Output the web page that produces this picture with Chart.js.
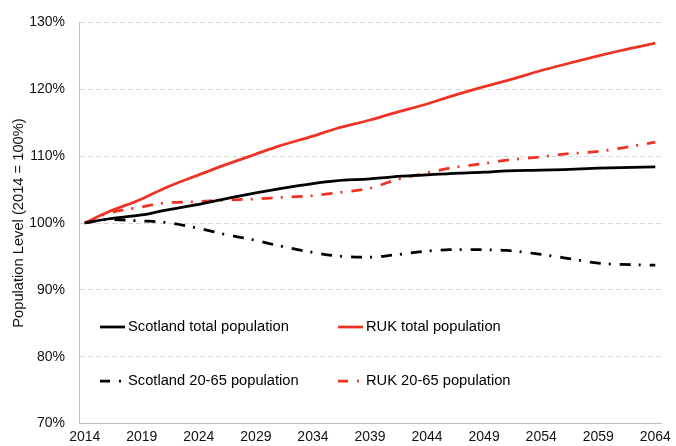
<!DOCTYPE html>
<html>
<head>
<meta charset="utf-8">
<script src="https://cdn.jsdelivr.net/npm/chart.js@4.4.1/dist/chart.umd.min.js"></script>
<style>
  html, body { margin: 0; padding: 0; background: #fff; }
  #wrap { width: 676px; height: 446px; position: relative; }
</style>
</head>
<body>
<div id="wrap"><canvas id="c" width="676" height="446"></canvas></div>
<script>
// ---- Data ----
const years = [2014, 2016, 2019, 2021, 2024, 2026, 2029, 2031, 2034, 2036, 2039, 2041, 2044, 2046, 2049, 2051, 2054, 2056, 2059, 2061, 2064];
const scotlandTotal = [100, 100.6, 101.2, 101.9, 102.8, 103.5, 104.5, 105.1, 105.9, 106.3, 106.6, 106.9, 107.2, 107.4, 107.6, 107.8, 107.9, 108.0, 108.2, 108.3, 108.4];
const rukTotal = [100, 101.6, 103.6, 105.2, 107.2, 108.5, 110.3, 111.5, 113.0, 114.1, 115.4, 116.4, 117.8, 118.9, 120.4, 121.3, 122.8, 123.7, 125.0, 125.8, 126.9];
const scotland2065 = [100, 100.5, 100.3, 100.1, 99.2, 98.4, 97.4, 96.6, 95.6, 95.1, 94.9, 95.2, 95.8, 96.0, 96.0, 95.9, 95.3, 94.8, 94.0, 93.8, 93.7];
const ruk2065 = [100, 101.4, 102.4, 103.0, 103.2, 103.4, 103.6, 103.8, 104.1, 104.5, 105.2, 106.3, 107.5, 108.2, 108.9, 109.4, 109.9, 110.3, 110.7, 111.2, 112.1];
const xTickYears = [2014, 2019, 2024, 2029, 2034, 2039, 2044, 2049, 2054, 2059, 2064];
const seriesNames = ['Scotland total population', 'RUK total population', 'Scotland 20-65 population', 'RUK 20-65 population'];

const RED = '#EE3224';
const BLACK = '#000000';
const DASHDOT = [11, 8, 2, 9];
const FONT = '"Liberation Sans", Arial, sans-serif';

const pts = arr => years.map((y, i) => ({ x: y, y: arr[i] }));

const legendPlugin = {
  id: 'insideLegend',
  afterDraw(chart) {
    const ctx = chart.ctx;
    const ds = chart.data.datasets;
    const spots = [
      { i: 0, x: 100, y: 327 },
      { i: 1, x: 338, y: 327 },
      { i: 2, x: 100, y: 381 },
      { i: 3, x: 338, y: 381 }
    ];
    spots.forEach(s => {
      const d = ds[s.i];
      ctx.save();
      ctx.strokeStyle = d.borderColor;
      ctx.lineWidth = d.borderWidth;
      ctx.setLineDash(d.borderDash && d.borderDash.length ? [10, 9, 2, 9] : []);
      ctx.beginPath();
      ctx.moveTo(s.x, s.y);
      ctx.lineTo(s.x + 25, s.y);
      ctx.stroke();
      ctx.setLineDash([]);
      ctx.fillStyle = '#000';
      ctx.font = '14.7px ' + FONT;
      ctx.textBaseline = 'middle';
      ctx.textAlign = 'left';
      ctx.fillText(d.label, s.x + 28, s.y);
      ctx.restore();
    });
  }
};

new Chart(document.getElementById('c'), {
  type: 'line',
  data: {
    datasets: [
      { label: seriesNames[0], data: pts(scotlandTotal), borderColor: BLACK, borderWidth: 2.75, pointRadius: 0, cubicInterpolationMode: 'monotone' },
      { label: seriesNames[1], data: pts(rukTotal), borderColor: RED, borderWidth: 2.75, pointRadius: 0, cubicInterpolationMode: 'monotone' },
      { label: seriesNames[2], data: pts(scotland2065), borderColor: BLACK, borderWidth: 2.75, borderDash: DASHDOT, pointRadius: 0, cubicInterpolationMode: 'monotone' },
      { label: seriesNames[3], data: pts(ruk2065), borderColor: RED, borderWidth: 2.75, borderDash: DASHDOT, pointRadius: 0, cubicInterpolationMode: 'monotone' }
    ]
  },
  options: {
    responsive: false,
    animation: false,
    devicePixelRatio: 1,
    layout: { padding: { left: 0, top: 20, right: 13, bottom: 0 } },
    plugins: { legend: { display: false }, tooltip: { enabled: false } },
    scales: {
      x: {
        type: 'linear',
        min: 2013.5,
        max: 2064.5,
        afterBuildTicks(scale) { scale.ticks = xTickYears.map(v => ({ value: v })); },
        afterFit(scale) { scale.height = 21; },
        grid: { display: false, drawTicks: false },
        border: { display: true, color: '#bfbfbf', width: 1 },
        ticks: { padding: 5, color: '#111', font: { family: FONT, size: 14 }, maxRotation: 0, autoSkip: false, callback: v => String(v) }
      },
      y: {
        min: 70,
        max: 130,
        afterFit(scale) { scale.width = 79; },
        ticks: { stepSize: 10, padding: 14, color: '#111', font: { family: FONT, size: 14 }, callback: v => v + '%' },
        grid: {
          drawTicks: false,
          color: ctx => (ctx.tick && ctx.tick.value === 70) ? 'rgba(0,0,0,0)' : '#d9d9d9',
          lineWidth: 1
        },
        border: { display: true, color: '#bfbfbf', width: 1, dash: [5, 3] },
        title: { display: true, text: 'Population Level (2014 = 100%)', color: '#111', font: { family: FONT, size: 14.7 }, padding: { top: 10, bottom: 0 } }
      }
    }
  },
  plugins: [legendPlugin]
});
</script>
</body>
</html>
